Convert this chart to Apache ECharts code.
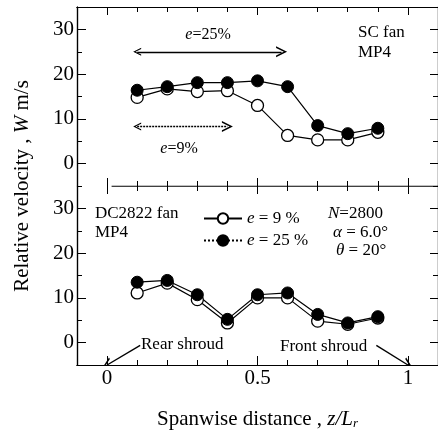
<!DOCTYPE html>
<html>
<head>
<meta charset="utf-8">
<script src="https://cdn.jsdelivr.net/npm/echarts@6/dist/echarts.min.js"></script>
<style>
  html, body { margin: 0; padding: 0; background: #fff; }
  #chart { width: 438px; height: 431px; }
</style>
</head>
<body>
<div id="chart"></div>
<script>
// spanwise positions z/Lr
const spanX = [0.1, 0.2, 0.3, 0.4, 0.5, 0.6, 0.7, 0.8, 0.9]
// SC fan, MP4 (top panel)
const scOpen = [14.8, 16.7, 16.1, 16.3, 13.0, 6.3, 5.3, 5.3, 7.0]
const scFilled = [16.4, 17.2, 18.1, 18.1, 18.5, 17.2, 8.5, 6.7, 7.9]
// DC2822 fan, MP4 (bottom panel)
const dcOpen = [11.1, 13.3, 9.6, 4.4, 10.0, 10.0, 4.8, 4.1, 5.5]
const dcFilled = [13.5, 13.9, 10.7, 5.2, 10.7, 11.1, 6.3, 4.4, 5.8]

const yMajor = [0, 10, 20, 30]
const yMinor = [-5, 5, 15, 25]
const xMajor = [0, 0.5, 1]
const xMinor = [0.1, 0.2, 0.3, 0.4, 0.6, 0.7, 0.8, 0.9]

// annotation arrows (data coords)
const arrow25 = [[0.1, 25], [0.58, 25]]
const arrow9 = [[0.1, 8.3], [0.4, 8.3]]
const rearArrow = [[0.11, -0.6], [0, -5]]
const frontArrow = [[0.895, -0.6], [1, -5]]
const midLine = [[0.015, -5], [1.1, -5]]

const serif = 'Liberation Serif'
const vee = 'path://M0,0 L-5,10 L-3.4,10 L0,3 L3.4,10 L5,10 Z'

const chart = echarts.init(document.getElementById('chart'))

const grids = [
    { left: 77, top: 7, width: 363, height: 179 },
    { left: 77, top: 186, width: 363, height: 179 }
]

const axisLine = show => ({ show, onZero: false, lineStyle: { color: '#000', width: 1.2 } })

const mkX = (grid, pos, vals, len, opts = {}) => Object.assign({
    type: 'value', gridIndex: grid, position: pos, min: -0.1, max: 1.1,
    axisLine: axisLine(true),
    axisTick: { show: true, inside: true, length: len, customValues: vals, lineStyle: { color: '#000' } },
    axisLabel: { show: false },
    splitLine: { show: false }
}, opts)

const mkY = (grid, pos, vals, len, opts = {}) => Object.assign({
    type: 'value', gridIndex: grid, position: pos, min: -5, max: 35,
    axisLine: axisLine(true),
    axisTick: { show: true, inside: true, length: len, customValues: vals, lineStyle: { color: '#000' } },
    axisLabel: { show: false },
    splitLine: { show: false }
}, opts)

const yLabel = {
    show: true, customValues: yMajor, margin: 3,
    fontFamily: serif, fontSize: 21, color: '#000'
}

const xAxes = [
    mkX(0, 'bottom', xMajor, 8, { axisLine: axisLine(false) }),   // 0
    mkX(0, 'bottom', xMinor, 5, { axisLine: axisLine(false) }),   // 1
    mkX(0, 'top', xMajor, 8),                                     // 2
    mkX(0, 'top', xMinor, 5),                                     // 3
    mkX(1, 'bottom', xMajor, 9, {                                 // 4
        axisLabel: { show: true, customValues: xMajor, margin: 3, fontFamily: serif, fontSize: 21, color: '#000' },
        name: '{a|Spanwise distance , }{i|z/L}{s|r}',
        nameLocation: 'middle', nameGap: 43,
        nameTextStyle: {
            rich: {
                a: { fontFamily: serif, fontSize: 21, color: '#000' },
                i: { fontFamily: serif, fontSize: 21, fontStyle: 'italic', color: '#000' },
                s: { fontFamily: serif, fontSize: 13, fontStyle: 'italic', color: '#000', padding: [9, 0, 0, 0] }
            }
        }
    }),
    mkX(1, 'bottom', xMinor, 5),                                  // 5
    mkX(1, 'top', xMajor, 8, { axisLine: axisLine(false) }),      // 6
    mkX(1, 'top', xMinor, 5, { axisLine: axisLine(false) })       // 7
]

const yAxes = [
    mkY(0, 'left', yMajor, 9, { axisLabel: yLabel }),  // 0
    mkY(0, 'left', yMinor, 5),                         // 1
    mkY(0, 'right', yMajor, 8),                        // 2
    mkY(0, 'right', yMinor, 5),                        // 3
    mkY(1, 'left', yMajor, 9, { axisLabel: yLabel }),  // 4
    mkY(1, 'left', yMinor, 5),                         // 5
    mkY(1, 'right', yMajor, 8),                        // 6
    mkY(1, 'right', yMinor, 5)                         // 7
]

const openStyle = { color: '#fff', borderColor: '#000', borderWidth: 1.3 }
const filledStyle = { color: '#000', borderColor: '#000', borderWidth: 1 }

const pts = (xs, ys) => xs.map((x, i) => [x, ys[i]])

const lineSeries = (name, data, xi, yi, style) => ({
    type: 'line', name, data, xAxisIndex: xi, yAxisIndex: yi,
    symbol: 'circle', symbolSize: 12,
    lineStyle: { color: '#000', width: 1.2 },
    itemStyle: style,
    animation: false
})

const arrowSeries = (coords, xi, yi, symbols, lineType) => ({
    type: 'lines', coordinateSystem: 'cartesian2d', xAxisIndex: xi, yAxisIndex: yi,
    symbol: symbols, symbolSize: [8, 11],
    lineStyle: { color: '#000', width: 1.4, type: lineType || 'solid', opacity: 1 },
    data: [{ coords }],
    silent: true, animation: false
})

const txt = (text, x, y, size, extra = {}) => ({
    type: 'text', x, y, silent: true,
    style: Object.assign({
        text, fontFamily: serif, fontSize: size, fill: '#000',
        verticalAlign: 'middle',
        rich: {
            i: { fontFamily: serif, fontSize: size, fontStyle: 'italic', fill: '#000' }
        }
    }, extra)
})

chart.setOption({
    backgroundColor: '#fff',
    animation: false,
    grid: grids,
    xAxis: xAxes,
    yAxis: yAxes,
    legend: {
        left: 198, top: 205, orient: 'vertical', itemGap: 5,
        itemWidth: 38, itemHeight: 13,
        textStyle: {
            fontFamily: serif, fontSize: 17, color: '#000',
            rich: { i: { fontFamily: serif, fontSize: 17, fontStyle: 'italic', color: '#000' } }
        },
        formatter: n => n === 'dc9' ? '{i|e} = 9 %' : '{i|e} = 25 %',
        data: [
            { name: 'dc9' },
            { name: 'dc25', lineStyle: { type: [2, 2] } }
        ]
    },
    series: [
        lineSeries('sc9', pts(spanX, scOpen), 0, 0, openStyle),
        lineSeries('sc25', pts(spanX, scFilled), 0, 0, filledStyle),
        lineSeries('dc9', pts(spanX, dcOpen), 4, 4, openStyle),
        lineSeries('dc25', pts(spanX, dcFilled), 4, 4, filledStyle),
        arrowSeries(arrow25, 0, 0, [vee, vee]),
        arrowSeries(arrow9, 0, 0, [vee, vee], [2, 1]),
        arrowSeries(rearArrow, 4, 4, ['none', vee]),
        arrowSeries(frontArrow, 4, 4, ['none', vee]),
        arrowSeries(midLine, 0, 0, ['none', 'none'])
    ],
    graphic: [
        txt('Relative velocity , {i|W} m/s', 22, 186, 21, { align: 'center' }),
        txt('{i|e}=25%', 208, 35, 16, { align: 'center' }),
        txt('{i|e}=9%', 179, 149, 16, { align: 'center' }),
        txt('SC fan', 358, 33, 17),
        txt('MP4', 358, 53, 17),
        txt('DC2822 fan', 95, 214, 17),
        txt('MP4', 95, 233, 17),
        txt('{i|N}=2800', 328, 214, 17),
        txt('{i|α} = 6.0°', 333, 233, 17),
        txt('{i|θ} = 20°', 336, 251, 17),
        txt('Rear shroud', 141, 345, 17),
        txt('Front shroud', 280, 347, 17)
    ].map((g, i) => i === 0 ? Object.assign(g, { rotation: Math.PI / 2 }) : g)
})
</script>
</body>
</html>
